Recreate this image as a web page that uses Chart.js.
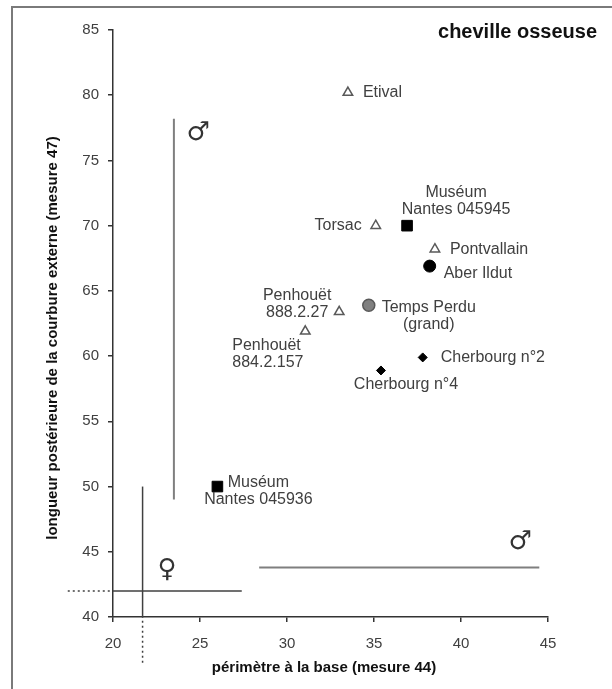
<!DOCTYPE html>
<html>
<head>
<meta charset="utf-8">
<script src="https://cdn.jsdelivr.net/npm/chart.js@4"></script>
<style>
  html, body { margin: 0; padding: 0; background: #fff; overflow: hidden; }
  canvas { display: block; }
</style>
</head>
<body>
<canvas id="grafico" width="612" height="689"></canvas>
<script>
// specimens: périmètre à la base (mesure 44) / longueur postérieure (mesure 47)
const specimenNames = [
  "Etival", "Torsac", "Pontvallain", "Penhouët 888.2.27", "Penhouët 884.2.157",
  "Muséum Nantes 045945", "Muséum Nantes 045936",
  "Aber Ildut", "Temps Perdu (grand)",
  "Cherbourg n°2", "Cherbourg n°4"
];
const perimetre = [33.5, 35.1, 38.5, 33.0, 31.05, 36.9, 26.0, 38.2, 34.7, 37.8, 35.4];
const longueur  = [80.2, 70.0, 68.2, 63.4, 61.9, 70.0, 50.0, 66.9, 63.9, 59.9, 58.9];
const groupe    = ["tri", "tri", "tri", "tri", "tri", "carre", "carre", "noir", "gris", "losange", "losange"];

// ranges (male / female)
const maleVertX = [23.5, 23.5];
const maleVertY = [49.0, 78.2];
const maleHorizX = [28.4, 44.5];
const maleHorizY = [43.8, 43.8];
const femaleVertX = [21.7, 21.7];
const femaleVertY = [40.0, 50.0];
const femaleHorizX = [20.0, 27.4];
const femaleHorizY = [42.0, 42.0];
const femaleDotVertY = [36.5, 40.0];
const femaleDotHorizX = [17.4, 20.0];

// gender symbols
const symboles = ["♂", "♂", "♀"];
const symboleX = [24.9, 43.4, 23.1];
const symboleY = [77.1, 45.7, 43.6];

const xTicks = [20, 25, 30, 35, 40, 45];
const yTicks = [40, 45, 50, 55, 60, 65, 70, 75, 80, 85];

const titre = "cheville osseuse";
const titreX = "périmètre à la base (mesure 44)";
const titreY = "longueur postérieure de la courbure externe (mesure 47)";

// where each name goes next to its marker
const placement = {
  "Etival":               { dx: 15,  dy: 0,   align: "left",   lines: ["Etival"] },
  "Torsac":               { dx: -14, dy: 0,   align: "right",  lines: ["Torsac"] },
  "Pontvallain":          { dx: 15,  dy: 0,   align: "left",   lines: ["Pontvallain"] },
  "Penhouët 888.2.27":    { dx: -42, dy: -16, align: "center", lines: ["Penhouët", "888.2.27"] },
  "Penhouët 884.2.157":   { dx: -73, dy: 14,  align: "left",   lines: ["Penhouët", "884.2.157"] },
  "Muséum Nantes 045945": { dx: 49,  dy: -33, align: "center", lines: ["Muséum", "Nantes 045945"] },
  "Muséum Nantes 045936": { dx: 41,  dy: -4,  align: "center", lines: ["Muséum", "Nantes 045936"] },
  "Aber Ildut":           { dx: 14,  dy: 7,   align: "left",   lines: ["Aber Ildut"] },
  "Temps Perdu (grand)":  { dx: 60,  dy: 2,   align: "center", lines: ["Temps Perdu", "(grand)"] },
  "Cherbourg n°2":        { dx: 18,  dy: 0,   align: "left",   lines: ["Cherbourg n°2"] },
  "Cherbourg n°4":        { dx: 25,  dy: 14,  align: "center", lines: ["Cherbourg n°4"] }
};

const FONT = "'Liberation Sans', Arial, sans-serif";

function pontos(g) {
  const pts = [];
  groupe.forEach((gr, i) => {
    if (gr === g) pts.push({ x: perimetre[i], y: longueur[i] });
  });
  return pts;
}

function segment(xs, ys) {
  return xs.map((x, i) => ({ x, y: ys[i] }));
}

function ligne(data, color, width, dash) {
  return {
    data,
    showLine: true,
    borderColor: color,
    borderWidth: width,
    borderDash: dash || [],
    pointRadius: 0,
    clip: false,
    order: 2
  };
}

const datasets = [
  ligne(segment(maleVertX, maleVertY), "#7f7f7f", 2),
  ligne(segment(maleHorizX, maleHorizY), "#7f7f7f", 2),
  ligne(segment(femaleVertX, femaleVertY), "#404040", 1.5),
  ligne(segment(femaleHorizX, femaleHorizY), "#404040", 1.5),
  ligne(segment(femaleVertX, femaleDotVertY), "#404040", 1.5, [2, 3]),
  ligne(segment(femaleDotHorizX, femaleHorizY), "#404040", 1.5, [2, 3]),
  {
    data: pontos("tri"), pointStyle: "triangle", pointRadius: 5.5,
    backgroundColor: "#fff", borderColor: "#595959", borderWidth: 1.5, order: 1
  },
  {
    data: pontos("carre"), pointStyle: "rect", pointRadius: 7.5,
    backgroundColor: "#000", borderColor: "#000", borderWidth: 1, order: 1
  },
  {
    data: pontos("noir"), pointStyle: "circle", pointRadius: 6,
    backgroundColor: "#000", borderColor: "#000", borderWidth: 1, order: 1
  },
  {
    data: pontos("gris"), pointStyle: "circle", pointRadius: 6,
    backgroundColor: "#808080", borderColor: "#595959", borderWidth: 1.5, order: 1
  },
  {
    data: pontos("losange"), pointStyle: "rectRot", pointRadius: 4.5,
    backgroundColor: "#000", borderColor: "#000", borderWidth: 1, order: 1
  }
];

const decor = {
  id: "decor",
  beforeDraw(chart) {
    const c = chart.ctx;
    c.save();
    c.fillStyle = "#fff";
    c.fillRect(0, 0, chart.width, chart.height);
    c.strokeStyle = "#7a7a7a";
    c.lineWidth = 2;
    c.beginPath();
    c.moveTo(12, chart.height);
    c.lineTo(12, 7);
    c.lineTo(chart.width, 7);
    c.stroke();
    c.restore();
  },
  afterDatasetsDraw(chart) {
    const c = chart.ctx;
    const sx = chart.scales.x;
    const sy = chart.scales.y;
    c.save();
    c.textBaseline = "middle";

    // names
    c.fillStyle = "#404040";
    c.font = "16px " + FONT;
    specimenNames.forEach((nom, i) => {
      const p = placement[nom];
      const px = sx.getPixelForValue(perimetre[i]);
      const py = sy.getPixelForValue(longueur[i]);
      c.textAlign = p.align;
      p.lines.forEach((l, k) => c.fillText(l, px + p.dx, py + p.dy + k * 17));
    });

    // gender symbols
    c.fillStyle = "#333";
    c.textAlign = "center";
    c.font = "26px 'DejaVu Sans', sans-serif";
    symboles.forEach((s, i) => {
      c.fillText(s, sx.getPixelForValue(symboleX[i]), sy.getPixelForValue(symboleY[i]));
    });

    // titles
    c.fillStyle = "#111";
    c.font = "bold 20px " + FONT;
    c.textAlign = "right";
    c.fillText(titre, 597, 32);

    c.font = "bold 15px " + FONT;
    c.textAlign = "center";
    c.fillText(titreX, 324, 668);

    c.translate(53, 338);
    c.rotate(-Math.PI / 2);
    c.fillText(titreY, 0, 0);
    c.restore();
  }
};

const ctx = document.getElementById("grafico").getContext("2d");

new Chart(ctx, {
  type: "scatter",
  data: { datasets },
  options: {
    responsive: false,
    animation: false,
    events: [],
    layout: { padding: { top: 30, right: 64, left: 0, bottom: 0 } },
    plugins: {
      legend: { display: false },
      tooltip: { enabled: false }
    },
    scales: {
      x: {
        type: "linear",
        min: 20,
        max: 45,
        afterBuildTicks: s => { s.ticks = xTicks.map(v => ({ value: v })); },
        afterFit: s => { s.height = 72; },
        ticks: { padding: 13, color: "#404040", font: { family: FONT, size: 15 } },
        grid: { drawOnChartArea: false, tickLength: 5, color: "#333", lineWidth: 1.5 },
        border: { color: "#333", width: 1.5 }
      },
      y: {
        type: "linear",
        min: 40,
        max: 85,
        afterBuildTicks: s => { s.ticks = yTicks.map(v => ({ value: v })); },
        afterFit: s => { s.width = 113; },
        ticks: { padding: 9, color: "#404040", font: { family: FONT, size: 15 } },
        grid: { drawOnChartArea: false, tickLength: 5, color: "#333", lineWidth: 1.5 },
        border: { color: "#333", width: 1.5 }
      }
    }
  },
  plugins: [decor]
});
</script>
</body>
</html>
